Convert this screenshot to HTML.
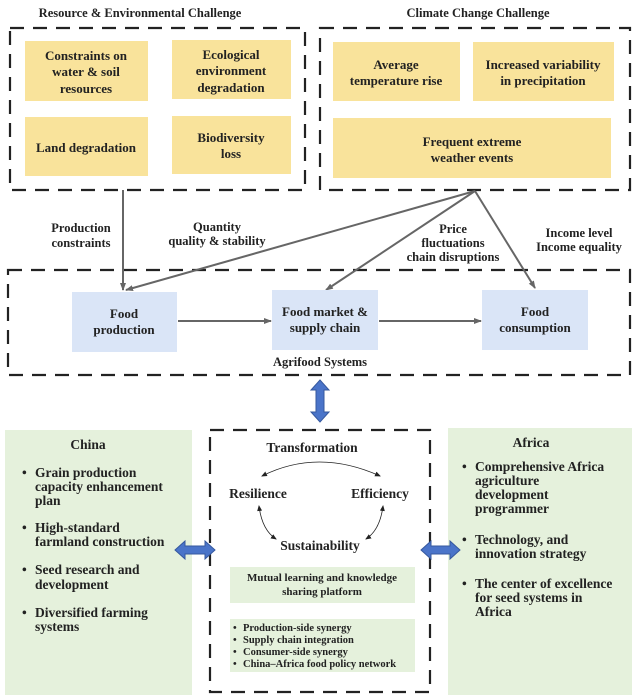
<!DOCTYPE html>
<html><head><meta charset="utf-8"><style>
body{margin:0;background:#fff}
svg{display:block}
text{font-family:"Liberation Serif",serif;font-weight:bold;fill:#222}
</style></head><body>
<svg width="639" height="700" viewBox="0 0 639 700" xmlns="http://www.w3.org/2000/svg">
<defs>
<marker id="a" markerWidth="8" markerHeight="8" refX="7" refY="4" orient="auto" markerUnits="userSpaceOnUse"><path d="M0,1 L8,4 L0,7 z" fill="#666"/></marker>
<marker id="s" markerWidth="6" markerHeight="6" refX="5" refY="3" orient="auto-start-reverse" markerUnits="userSpaceOnUse"><path d="M0,0.5 L6,3 L0,5.5 z" fill="#222"/></marker>
</defs>
<g font-size="12.5" text-anchor="middle">
<text x="140" y="17">Resource &amp; Environmental Challenge</text>
<text x="478" y="17">Climate Change Challenge</text>
</g>
<g fill="none" stroke="#222" stroke-width="2.2" stroke-dasharray="14,9">
<rect x="10" y="28" width="295" height="162"/>
<rect x="320" y="28" width="310" height="162"/>
<rect x="8" y="270" width="622" height="105"/>
<rect x="210" y="430" width="220" height="262"/>
</g>
<g fill="#f9e39b">
<rect x="25" y="41" width="123" height="60"/><rect x="172" y="40" width="119" height="59"/>
<rect x="25" y="117" width="123" height="59"/><rect x="172" y="116" width="119" height="58"/>
<rect x="333" y="42" width="127" height="59"/><rect x="473" y="42" width="141" height="59"/>
<rect x="333" y="118" width="278" height="60"/>
</g>
<g font-size="13" text-anchor="middle">
<text x="86" y="60">Constraints on</text><text x="86" y="76">water &amp; soil</text><text x="86" y="93">resources</text>
<text x="231" y="59">Ecological</text><text x="231" y="75">environment</text><text x="231" y="92">degradation</text>
<text x="86" y="152">Land degradation</text>
<text x="231" y="142">Biodiversity</text><text x="231" y="158">loss</text>
<text x="396" y="69">Average</text><text x="396" y="85">temperature rise</text>
<text x="543" y="69">Increased variability</text><text x="543" y="85">in precipitation</text>
<text x="472" y="146">Frequent extreme</text><text x="472" y="162">weather events</text>
</g>
<g stroke="#666" stroke-width="2" fill="none">
<line x1="123" y1="190" x2="123" y2="290" marker-end="url(#a)"/>
<line x1="475" y1="191" x2="126" y2="290" marker-end="url(#a)"/>
<line x1="475" y1="191" x2="326" y2="290" marker-end="url(#a)"/>
<line x1="475" y1="191" x2="535" y2="288" marker-end="url(#a)"/>
<line x1="178" y1="321" x2="271" y2="321" marker-end="url(#a)"/>
<line x1="379" y1="321" x2="481" y2="321" marker-end="url(#a)"/>
</g>
<g font-size="12.5" text-anchor="middle">
<text x="81" y="232">Production</text><text x="81" y="247">constraints</text>
<text x="217" y="231">Quantity</text><text x="217" y="245">quality &amp; stability</text>
<text x="453" y="233">Price</text><text x="453" y="247">fluctuations</text><text x="453" y="261">chain disruptions</text>
<text x="579" y="237">Income level</text><text x="579" y="251">Income equality</text>
</g>
<g fill="#dae5f7">
<rect x="72" y="292" width="105" height="60"/><rect x="272" y="290" width="106" height="60"/><rect x="482" y="290" width="106" height="60"/>
</g>
<g font-size="13" text-anchor="middle">
<text x="124" y="318">Food</text><text x="124" y="334">production</text>
<text x="325" y="316">Food market &amp;</text><text x="325" y="332">supply chain</text>
<text x="535" y="316">Food</text><text x="535" y="332">consumption</text>
<text x="320" y="366" font-size="12.5">Agrifood Systems</text>
</g>
<rect x="5" y="430" width="187" height="265" fill="#e5f1dc"/>
<rect x="448" y="428" width="184" height="267" fill="#e5f1dc"/>
<g fill="#4a74c9" stroke="#35589e" stroke-width="1">
<path d="M320,380 L329,390 L324,390 L324,412 L329,412 L320,422 L311,412 L316,412 L316,390 L311,390 z"/>
<path d="M175,550 L185,541 L185,546 L205,546 L205,541 L215,550 L205,559 L205,554 L185,554 L185,559 z"/>
<path d="M421,550 L431,541 L431,546 L450,546 L450,541 L460,550 L450,559 L450,554 L431,554 L431,559 z"/>
</g>
<g font-size="13.5">
<text x="88" y="449" text-anchor="middle">China</text>
<text x="22" y="477">•</text><text x="35" y="477">Grain production</text><text x="35" y="491">capacity enhancement</text><text x="35" y="505">plan</text>
<text x="22" y="532">•</text><text x="35" y="532">High-standard</text><text x="35" y="546">farmland construction</text>
<text x="22" y="574">•</text><text x="35" y="574">Seed research and</text><text x="35" y="589">development</text>
<text x="22" y="617">•</text><text x="35" y="617">Diversified farming</text><text x="35" y="631">systems</text>
<text x="531" y="447" text-anchor="middle">Africa</text>
<text x="462" y="471">•</text><text x="475" y="471">Comprehensive Africa</text><text x="475" y="485">agriculture</text><text x="475" y="499">development</text><text x="475" y="513">programmer</text>
<text x="462" y="544">•</text><text x="475" y="544">Technology, and</text><text x="475" y="558">innovation strategy</text>
<text x="462" y="588">•</text><text x="475" y="588">The center of excellence</text><text x="475" y="602">for seed systems in</text><text x="475" y="616">Africa</text>
</g>
<g font-size="13.5" text-anchor="middle">
<text x="312" y="452">Transformation</text>
<text x="258" y="498">Resilience</text>
<text x="380" y="498">Efficiency</text>
<text x="320" y="550">Sustainability</text>
</g>
<g fill="none" stroke="#222" stroke-width="0.8">
<path d="M262,476 Q318,448 380,476" marker-start="url(#s)" marker-end="url(#s)"/>
<path d="M259,506 Q262,530 276,539" marker-start="url(#s)" marker-end="url(#s)"/>
<path d="M383,506 Q380,530 366,539" marker-start="url(#s)" marker-end="url(#s)"/>
</g>
<rect x="230" y="567" width="185" height="36" fill="#e5f1dc"/>
<rect x="230" y="619" width="185" height="53" fill="#e5f1dc"/>
<g font-size="11" text-anchor="middle">
<text x="322" y="581">Mutual learning and knowledge</text><text x="322" y="595">sharing platform</text>
</g>
<g font-size="10.5">
<text x="233" y="631">•</text><text x="243" y="631">Production-side synergy</text>
<text x="233" y="643">•</text><text x="243" y="643">Supply chain integration</text>
<text x="233" y="655">•</text><text x="243" y="655">Consumer-side synergy</text>
<text x="233" y="667">•</text><text x="243" y="667">China–Africa food policy network</text>
</g>
</svg>
</body></html>
